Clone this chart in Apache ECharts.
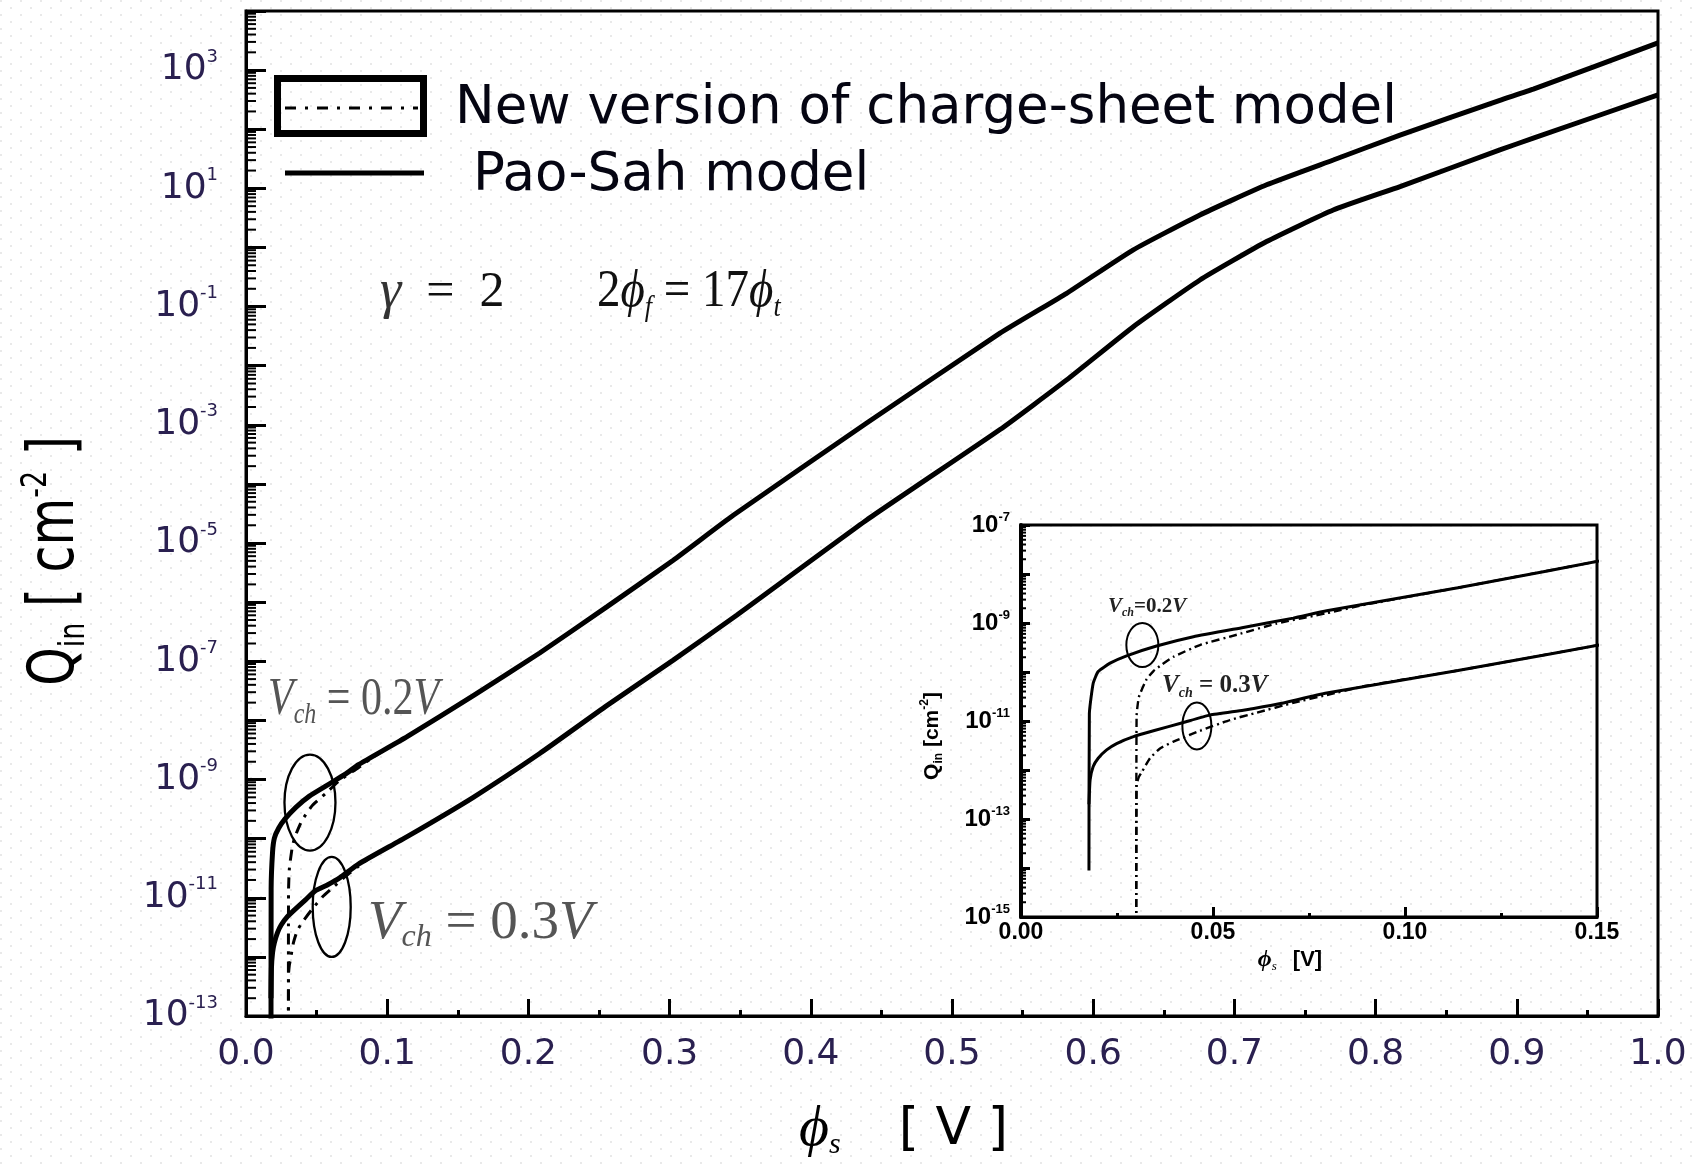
<!DOCTYPE html>
<html>
<head>
<meta charset="utf-8">
<script src="https://cdn.jsdelivr.net/npm/echarts@6/dist/echarts.min.js"></script>
<style>html,body{margin:0;padding:0;background:#fff}#c{width:1693px;height:1165px}</style>
</head>
<body>
<div id="c"></div>
<script>
// ---------------- DATA (phi_s in V, log10 of Q_in in cm^-2) ----------------
// Pao-Sah model, Vch = 0.2 V
const phiPaoSah02  = [0.0177,0.0178,0.0188,0.0201,0.0232,0.0275,0.0353,0.0449,0.0579,0.0709,0.0796,0.1138,0.161,0.208,0.2555,0.3026,0.3451,0.4396,0.534,0.5812,0.6284,0.6756,0.7228,0.770,0.8173,0.888,0.9117,1.0];
const logQPaoSah02 = [-14.05,-10.85,-10.23,-9.99,-9.82,-9.67,-9.47,-9.28,-9.09,-8.90,-8.75,-8.28,-7.58,-6.86,-6.08,-5.29,-4.53,-2.97,-1.45,-0.775,-0.04,0.55,1.06,1.48,1.90,2.49,2.68,3.46];
// Pao-Sah model, Vch = 0.3 V
const phiPaoSah03  = [0.0177,0.0180,0.0188,0.0201,0.0223,0.0249,0.0293,0.0345,0.0423,0.0492,0.0579,0.0666,0.0796,0.1138,0.161,0.208,0.2555,0.3026,0.3475,0.4396,0.534,0.5812,0.6284,0.6756,0.7228,0.770,0.8173,0.888,0.9117,1.0];
const logQPaoSah03 = [-12.70,-12.20,-11.93,-11.76,-11.59,-11.46,-11.32,-11.20,-11.03,-10.88,-10.78,-10.66,-10.43,-9.97,-9.30,-8.56,-7.75,-6.98,-6.22,-4.61,-3.08,-2.24,-1.34,-0.55,0.10,0.634,1.03,1.65,1.85,2.58];
// New charge-sheet model, Vch = 0.2 V
const phiSheet02  = [0.0300,0.0301,0.0307,0.0327,0.0345,0.0365,0.0397,0.0466,0.0562,0.0666,0.0796,0.09,0.1138,0.161];
const logQSheet02 = [-17,-10.90,-10.51,-10.15,-9.98,-9.86,-9.69,-9.45,-9.24,-9.01,-8.80,-8.62,-8.28,-7.58];
// New charge-sheet model, Vch = 0.3 V
const phiSheet03  = [0.0300,0.0301,0.0307,0.0314,0.0336,0.0362,0.0397,0.0466,0.0544,0.0614,0.0709,0.0796,0.09,0.1138,0.161];
const logQSheet03 = [-17,-12.30,-12.14,-12.05,-11.76,-11.56,-11.42,-11.20,-10.98,-10.83,-10.63,-10.47,-10.28,-9.97,-9.30];

// tick labels
const mainXTickLabels = ['0.0','0.1','0.2','0.3','0.4','0.5','0.6','0.7','0.8','0.9','1.0'];
const mainYLabelExps  = [3,1,-1,-3,-5,-7,-9,-11,-13];
const insetXTickLabels = ['0.00','0.05','0.10','0.15'];
const insetYLabelExps  = [-7,-9,-11,-13,-15];

// annotation anchors (phi, log10 Q) for the ellipses
const mainEllipseCenters  = [[0.0453,-9.39],[0.0607,-11.155]];
const insetEllipseCenters = [[0.0316,-9.45],[0.0458,-11.10]];

// ---------------- CHART ----------------
const serif = "'Liberation Serif','DejaVu Serif',serif";
const sans = "'DejaVu Sans',sans-serif";
const arial = "'Liberation Sans',Arial,sans-serif";
const labelColor = '#2a2050';

function pairs(xs, ys){ return xs.map((x,i)=>[x, ys[i]]); }

const mainMinor = [];
for (let n=-13; n<4; n++) for (let k=2; k<=9; k++) mainMinor.push([0, n+Math.log10(k)]);
const insetMinor = [];
for (let n=-15; n<-7; n++) for (let k=2; k<=9; k++) insetMinor.push([0, n+Math.log10(k)]);

function tickRender(len, w){
  return function(params, api){
    const p = api.coord([api.value(0), api.value(1)]);
    return {type:'line', shape:{x1:p[0], y1:p[1], x2:p[0]+len, y2:p[1]}, style:{stroke:'#000', lineWidth:w}};
  };
}

// faint dotted paper background
const pat = document.createElement('canvas');
pat.width = 20; pat.height = 14;
const pctx = pat.getContext('2d');
pctx.fillStyle = '#fff'; pctx.fillRect(0,0,20,14);
pctx.fillStyle = '#e9e9e9';
pctx.fillRect(0,0,2,2); pctx.fillRect(10,7,2,2);

const chart = echarts.init(document.getElementById('c'), null, {renderer:'canvas'});

function yFmt(list){
  return function(v){
    const e = Math.round(v);
    if (Math.abs(v-e) > 1e-6 || list.indexOf(e) < 0) return '';
    return '{b|10}{s|' + e + '}';
  };
}

const solidMain = {color:'#000', width:5};
const dashMain  = {color:'#000', width:3, type:[11,7,3,7]};
const solidIn   = {color:'#000', width:3};
const dashIn    = {color:'#000', width:2.4, type:[8,4,2,4]};

function lineSeries(name, xs, ys, gi, ls, z){
  return {name:name, type:'line', xAxisIndex:gi, yAxisIndex:gi, data:pairs(xs,ys),
    showSymbol:false, symbol:'none', lineStyle:ls, clip:true, z:z, silent:true,
    smooth:0.15};
}

chart.setOption({
  animation:false,
  backgroundColor:{image:pat, repeat:'repeat'},
  grid:[
    {left:246, top:11, width:1412, height:1005, show:true, borderColor:'#000', borderWidth:3, backgroundColor:'transparent'},
    {left:1021, top:525, width:576, height:392, show:true, borderColor:'#000', borderWidth:3, backgroundColor:'transparent'}
  ],
  xAxis:[
    {type:'value', gridIndex:0, min:0, max:1, interval:0.1,
     axisLine:{show:true, onZero:false, lineStyle:{color:'#000', width:3}},
     axisTick:{show:true, inside:true, length:17, lineStyle:{color:'#000', width:3}},
     minorTick:{show:true, splitNumber:2, length:6, lineStyle:{color:'#000', width:3}},
     splitLine:{show:false},
     axisLabel:{margin:21, fontFamily:sans, fontSize:36, color:labelColor,
       formatter:v=>mainXTickLabels[Math.round(v*10)]},
     name:'{p|\u03D5}{s|s}{g|}{t|[ V ]}', nameLocation:'middle', nameGap:84,
     nameTextStyle:{padding:[0,97,0,0], rich:{
       p:{fontFamily:serif, fontStyle:'italic', fontSize:58, color:'#000', lineHeight:60},
       s:{fontFamily:serif, fontStyle:'italic', fontSize:30, color:'#000', verticalAlign:'bottom', lineHeight:40, padding:[14,0,0,0]},
       g:{width:58},
       t:{fontFamily:sans, fontSize:52, color:'#000', lineHeight:60}
     }}
    },
    {type:'value', gridIndex:1, min:0, max:0.15, interval:0.05,
     axisLine:{show:true, onZero:false, lineStyle:{color:'#000', width:3}},
     axisTick:{show:true, inside:true, length:10, lineStyle:{color:'#000', width:3}},
     minorTick:{show:true, splitNumber:2, length:4, lineStyle:{color:'#000', width:3}},
     splitLine:{show:false},
     axisLabel:{margin:4, fontFamily:arial, fontWeight:'bold', fontSize:23, color:'#000',
       formatter:v=>insetXTickLabels[Math.round(v/0.05)]},
     name:'{p|\u03D5}{s|s}{g|}{t|[V]}', nameLocation:'middle', nameGap:30,
     nameTextStyle:{padding:[0,38,0,0], rich:{
       p:{fontFamily:serif, fontStyle:'italic', fontWeight:'bold', fontSize:24, color:'#000', lineHeight:26},
       s:{fontFamily:serif, fontStyle:'italic', fontSize:13, color:'#000', verticalAlign:'bottom', lineHeight:18, padding:[6,0,0,0]},
       g:{width:16},
       t:{fontFamily:arial, fontWeight:'bold', fontSize:22, color:'#000', lineHeight:26}
     }}
    }
  ],
  yAxis:[
    {type:'value', gridIndex:0, min:-13, max:4, interval:1,
     axisLine:{show:true, onZero:false, lineStyle:{color:'#000', width:3}},
     axisTick:{show:true, inside:true, length:20, lineStyle:{color:'#000', width:3}},
     splitLine:{show:false},
     axisLabel:{margin:28, formatter:yFmt(mainYLabelExps), rich:{
       b:{fontFamily:sans, fontSize:36, color:labelColor, lineHeight:44},
       s:{fontFamily:sans, fontSize:18, color:labelColor, lineHeight:18, verticalAlign:'top'}
     }}
    },
    {type:'value', gridIndex:1, min:-15, max:-7, interval:1,
     axisLine:{show:true, onZero:false, lineStyle:{color:'#000', width:4}},
     axisTick:{show:true, inside:true, length:9, lineStyle:{color:'#000', width:3}},
     splitLine:{show:false},
     axisLabel:{margin:11, formatter:yFmt(insetYLabelExps), rich:{
       b:{fontFamily:arial, fontWeight:'bold', fontSize:24, color:'#000', lineHeight:28},
       s:{fontFamily:arial, fontWeight:'bold', fontSize:13, color:'#000', lineHeight:13, verticalAlign:'top'}
     }},
     name:'{q|Q}{i|in}{t| [cm}{u|-2}{t|]}', nameLocation:'middle', nameGap:76, nameRotate:90,
     nameTextStyle:{padding:[0,30,0,0], rich:{
       q:{fontFamily:arial, fontWeight:'bold', fontSize:21, color:'#000', lineHeight:26},
       i:{fontFamily:arial, fontWeight:'bold', fontSize:12, color:'#000', verticalAlign:'bottom', lineHeight:18, padding:[8,0,0,0]},
       t:{fontFamily:arial, fontWeight:'bold', fontSize:21, color:'#000', lineHeight:26},
       u:{fontFamily:arial, fontWeight:'bold', fontSize:12, color:'#000', verticalAlign:'top', lineHeight:12}
     }}
    }
  ],
  series:[
    lineSeries('New version of charge-sheet model, Vch=0.2V', phiSheet02, logQSheet02, 0, dashMain, 2),
    lineSeries('New version of charge-sheet model, Vch=0.3V', phiSheet03, logQSheet03, 0, dashMain, 2),
    lineSeries('Pao-Sah model, Vch=0.2V', phiPaoSah02, logQPaoSah02, 0, solidMain, 3),
    lineSeries('Pao-Sah model, Vch=0.3V', phiPaoSah03, logQPaoSah03, 0, solidMain, 3),
    lineSeries('New version of charge-sheet model, Vch=0.2V (inset)', phiSheet02, logQSheet02, 1, dashIn, 2),
    lineSeries('New version of charge-sheet model, Vch=0.3V (inset)', phiSheet03, logQSheet03, 1, dashIn, 2),
    lineSeries('Pao-Sah model, Vch=0.2V (inset)', phiPaoSah02, logQPaoSah02, 1, solidIn, 3),
    lineSeries('Pao-Sah model, Vch=0.3V (inset)', phiPaoSah03, logQPaoSah03, 1, solidIn, 3),
    {type:'custom', xAxisIndex:0, yAxisIndex:0, data:mainMinor, renderItem:tickRender(10,2), silent:true, clip:false, z:4},
    {type:'custom', xAxisIndex:1, yAxisIndex:1, data:insetMinor, renderItem:tickRender(5,2), silent:true, clip:false, z:4}
  ]
});

// ---------------- ANNOTATIONS ----------------
const g = [];
function ellipseAt(gi, c, rx, ry, lw){
  const p = chart.convertToPixel({gridIndex:gi}, c);
  g.push({type:'ellipse', shape:{cx:p[0], cy:p[1], rx:rx, ry:ry}, style:{fill:'none', stroke:'#000', lineWidth:lw}, z:10, silent:true});
}
ellipseAt(0, mainEllipseCenters[0], 25.5, 48, 2.3);
ellipseAt(0, mainEllipseCenters[1], 19, 50, 2.3);
ellipseAt(1, insetEllipseCenters[0], 16, 22, 2);
ellipseAt(1, insetEllipseCenters[1], 14.5, 23.5, 2);

// legend
g.push({type:'rect', shape:{x:277.5, y:78.5, width:146, height:55}, style:{fill:'none', stroke:'#000', lineWidth:7}, z:10});
g.push({type:'line', shape:{x1:285, y1:108, x2:418, y2:108}, style:{stroke:'#000', lineWidth:3, lineDash:[11,9,3,9]}, z:10});
g.push({type:'line', shape:{x1:285, y1:173, x2:424, y2:173}, style:{stroke:'#000', lineWidth:5}, z:10});
g.push({type:'text', x:455, y:109, z:10, style:{text:'New version of charge-sheet model', font:'53px '+sans, fill:'#050512', align:'left', verticalAlign:'middle'}});
g.push({type:'text', x:473, y:176, z:10, style:{text:'Pao-Sah model', font:'53px '+sans, fill:'#050512', align:'left', verticalAlign:'middle'}});

// main y title (rotated, glyphs stretched as in original)
g.push({type:'text', x:56, y:561, rotation:Math.PI/2, scaleY:1.3, z:10, style:{
  text:'{q|Q}{i|in}{t| [ cm}{u|-2}{t| ]}', align:'center', verticalAlign:'middle',
  rich:{
    q:{fontFamily:sans, fontSize:49, fill:'#000', lineHeight:56},
    i:{fontFamily:sans, fontSize:27, fill:'#000', lineHeight:40, verticalAlign:'bottom', padding:[16,0,0,0]},
    t:{fontFamily:sans, fontSize:49, fill:'#000', lineHeight:56},
    u:{fontFamily:sans, fontSize:27, fill:'#000', lineHeight:27, verticalAlign:'top'}
  }}});

// parameter annotations
g.push({type:'text', x:380, y:293, z:10, style:{
  text:'{g|\u03B3}{n|  =  2}', align:'left', verticalAlign:'middle',
  rich:{g:{fontFamily:serif, fontStyle:'italic', fontSize:54, fill:'#333', lineHeight:60},
        n:{fontFamily:serif, fontSize:50, fill:'#111', lineHeight:60}}}});
g.push({type:'text', x:597, y:292, z:10, scaleY:1.12, originX:0, originY:0, style:{
  text:'{n|2}{p|\u03D5}{s|f}{n| = 17}{p|\u03D5}{s|t}', align:'left', verticalAlign:'middle',
  rich:{n:{fontFamily:serif, fontSize:47, fill:'#111', lineHeight:56},
        p:{fontFamily:serif, fontStyle:'italic', fontSize:47, fill:'#111', lineHeight:56},
        s:{fontFamily:serif, fontStyle:'italic', fontSize:26, fill:'#111', lineHeight:40, verticalAlign:'bottom', padding:[18,0,0,0]}}}});

// Vch labels (main)
g.push({type:'text', x:268, y:700, scaleY:1.25, z:10, style:{
  text:'{v|V}{s|ch}{n| = 0.2}{v|V}', align:'left', verticalAlign:'middle',
  rich:{v:{fontFamily:serif, fontStyle:'italic', fontSize:42, fill:'#555', lineHeight:48},
        s:{fontFamily:serif, fontStyle:'italic', fontSize:24, fill:'#555', lineHeight:34, verticalAlign:'bottom', padding:[14,0,0,0]},
        n:{fontFamily:serif, fontSize:42, fill:'#555', lineHeight:48}}}});
g.push({type:'text', x:368, y:924, z:10, style:{
  text:'{v|V}{s|ch}{n| = 0.3}{v|V}', align:'left', verticalAlign:'middle',
  rich:{v:{fontFamily:serif, fontStyle:'italic', fontSize:55, fill:'#555', lineHeight:60},
        s:{fontFamily:serif, fontStyle:'italic', fontSize:32, fill:'#555', lineHeight:44, verticalAlign:'bottom', padding:[18,0,0,0]},
        n:{fontFamily:serif, fontSize:55, fill:'#555', lineHeight:60}}}});

// Vch labels (inset)
g.push({type:'text', x:1108, y:607, z:10, style:{
  text:'{v|V}{s|ch}{n|=0.2}{v|V}', align:'left', verticalAlign:'middle',
  rich:{v:{fontFamily:serif, fontStyle:'italic', fontWeight:'bold', fontSize:21, fill:'#222', lineHeight:24},
        s:{fontFamily:serif, fontStyle:'italic', fontWeight:'bold', fontSize:12, fill:'#222', lineHeight:18, verticalAlign:'bottom', padding:[6,0,0,0]},
        n:{fontFamily:serif, fontWeight:'bold', fontSize:21, fill:'#222', lineHeight:24}}}});
g.push({type:'text', x:1162, y:686, z:10, style:{
  text:'{v|V}{s|ch}{n| = 0.3}{v|V}', align:'left', verticalAlign:'middle',
  rich:{v:{fontFamily:serif, fontStyle:'italic', fontWeight:'bold', fontSize:25, fill:'#222', lineHeight:28},
        s:{fontFamily:serif, fontStyle:'italic', fontWeight:'bold', fontSize:14, fill:'#222', lineHeight:20, verticalAlign:'bottom', padding:[8,0,0,0]},
        n:{fontFamily:serif, fontWeight:'bold', fontSize:25, fill:'#222', lineHeight:28}}}});

chart.setOption({graphic:g});
</script>
</body>
</html>
